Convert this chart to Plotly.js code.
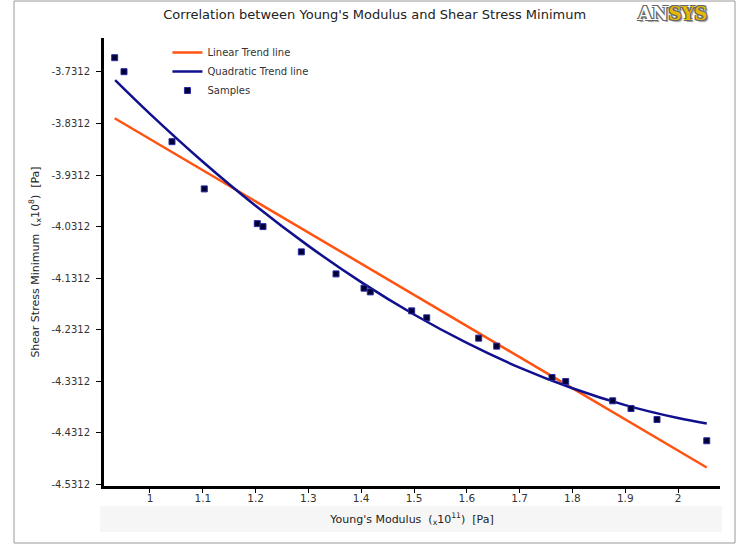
<!DOCTYPE html>
<html>
<head>
<meta charset="utf-8">
<script src="https://cdn.plot.ly/plotly-3.0.1.min.js"></script>
<style>html,body{margin:0;padding:0;background:#fff;}#chart{width:742px;height:546px;}</style>
</head>
<body>
<div id="chart"></div>
<script>
// Samples (Young's Modulus ×1e11 Pa, Shear Stress Minimum ×1e8 Pa)
var sampleX = [0.9331, 0.9508, 1.0417, 1.1028, 1.2032, 1.2140, 1.2866, 1.3523, 1.4053, 1.4172,
               1.4956, 1.5241, 1.6225, 1.6566, 1.7614, 1.7873, 1.8763, 1.9110, 1.9602, 2.0544];
var sampleY = [-3.7035, -3.7306, -3.8663, -3.9579, -4.0252, -4.0310, -4.0800, -4.1227, -4.1504, -4.1576,
               -4.1944, -4.2079, -4.2473, -4.2628, -4.3236, -4.3314, -4.3688, -4.3837, -4.4050, -4.4463];
// Linear trend line (end points)
var linearX = [0.9331, 2.0544];
var linearY = [-3.8209, -4.4981];
// Quadratic trend line
var quadX = [0.934, 1.0, 1.1, 1.2, 1.3, 1.4, 1.5, 1.6, 1.7, 1.8, 1.9, 2.0, 2.0544];
var quadY = [-3.747, -3.8124, -3.9052, -3.9906, -4.0684, -4.1387, -4.2014, -4.2566, -4.3044, -4.3445, -4.3772, -4.4023, -4.4128];
// Tick labels
var xTicks = [1, 1.1, 1.2, 1.3, 1.4, 1.5, 1.6, 1.7, 1.8, 1.9, 2];
var xTickText = ["1", "1.1", "1.2", "1.3", "1.4", "1.5", "1.6", "1.7", "1.8", "1.9", "2"];
var yTicks = [-3.7312, -3.8312, -3.9312, -4.0312, -4.1312, -4.2312, -4.3312, -4.4312, -4.5312];
var yTickText = ["-3.7312", "-3.8312", "-3.9312", "-4.0312", "-4.1312", "-4.2312", "-4.3312", "-4.4312", "-4.5312"];

var FONT = "DejaVu Sans, Verdana, sans-serif";

var traces = [
  {x: linearX, y: linearY, mode: "lines", name: "Linear Trend line",
   line: {color: "#ff5311", width: 2.5}},
  {x: quadX, y: quadY, mode: "lines", name: "Quadratic Trend line",
   line: {color: "#10108f", width: 2.5, shape: "spline", smoothing: 1}},
  {x: sampleX, y: sampleY, mode: "markers", name: "Samples",
   marker: {symbol: "square", size: 6, color: "#000033", line: {color: "#2a2aa8", width: 1}}}
];

var layout = {
  width: 742, height: 546,
  margin: {l: 104, r: 22, t: 38, b: 60},
  paper_bgcolor: "#ffffff", plot_bgcolor: "#ffffff",
  font: {family: FONT, size: 11, color: "#333"},
  showlegend: true,
  legend: {x: 0.103, y: 1.0, xanchor: "left", yanchor: "top", bgcolor: "rgba(0,0,0,0)",
           font: {family: FONT, size: 10, color: "#333"}, tracegroupgap: 0},
  title: {text: "Correlation between Young's Modulus and Shear Stress Minimum",
          font: {family: FONT, size: 13, color: "#222"}, x: 0.505, xanchor: "center", y: 0.974, yanchor: "middle"},
  xaxis: {
    range: [0.9129, 2.0795], tickmode: "array", tickvals: xTicks, ticktext: xTickText,
    showgrid: false, zeroline: false, showline: true, linecolor: "#000", linewidth: 3,
    ticks: "outside", ticklen: 4, tickwidth: 1, tickcolor: "#000", ticklabelstandoff: -4,
    tickfont: {family: FONT, size: 10.5, color: "#333"},
    title: {text: "Young's Modulus\u00a0\u00a0(<sub>x</sub>10<sup>11</sup>)\u00a0\u00a0[Pa]",
            font: {family: FONT, size: 11, color: "#222"}, standoff: 13}
  },
  yaxis: {
    range: [-4.5340, -3.6653], tickmode: "array", tickvals: yTicks, ticktext: yTickText,
    showgrid: false, zeroline: false, showline: true, linecolor: "#000", linewidth: 3,
    ticks: "outside", ticklen: 5, tickwidth: 1, tickcolor: "#000", ticklabelstandoff: 4,
    tickfont: {family: FONT, size: 10, color: "#333"},
    title: {text: "Shear Stress Minimum\u00a0\u00a0(<sub>x</sub>10<sup>8</sup>)\u00a0\u00a0[Pa]",
            font: {family: FONT, size: 11, color: "#222"}, standoff: 10}
  },
  shapes: [
    {type: "rect", xref: "paper", yref: "paper", layer: "below",
     x0: -4/616, x1: 1.003, y0: -46/448, y1: -20/448,
     fillcolor: "#f6f6f6", line: {width: 0}},
    {type: "rect", xref: "paper", yref: "paper", layer: "below",
     x0: -90/616, x1: 1 + 15/616, y0: -57/448, y1: 1 + 37/448,
     fillcolor: "rgba(0,0,0,0)", line: {color: "#9a9a9a", width: 1}}
  ],
  annotations: [
    {xref: "paper", yref: "paper", x: 0.982, y: 1 + 24/448, xanchor: "right", yanchor: "middle",
     showarrow: false,
     text: "<span style='color:#ffffff'>AN</span><span style='color:#e5b800'>SYS</span>",
     font: {family: "DejaVu Serif, serif", size: 18, weight: 900, color: "#fff",
            shadow: "1px 1px 0 #666, -1px -1px 0 #666, 1px -1px 0 #666, -1px 1px 0 #666, 2px 2px 1px #999"}}
  ]
};

Plotly.newPlot("chart", traces, layout, {displayModeBar: false, staticPlot: true});
</script>
</body>
</html>
